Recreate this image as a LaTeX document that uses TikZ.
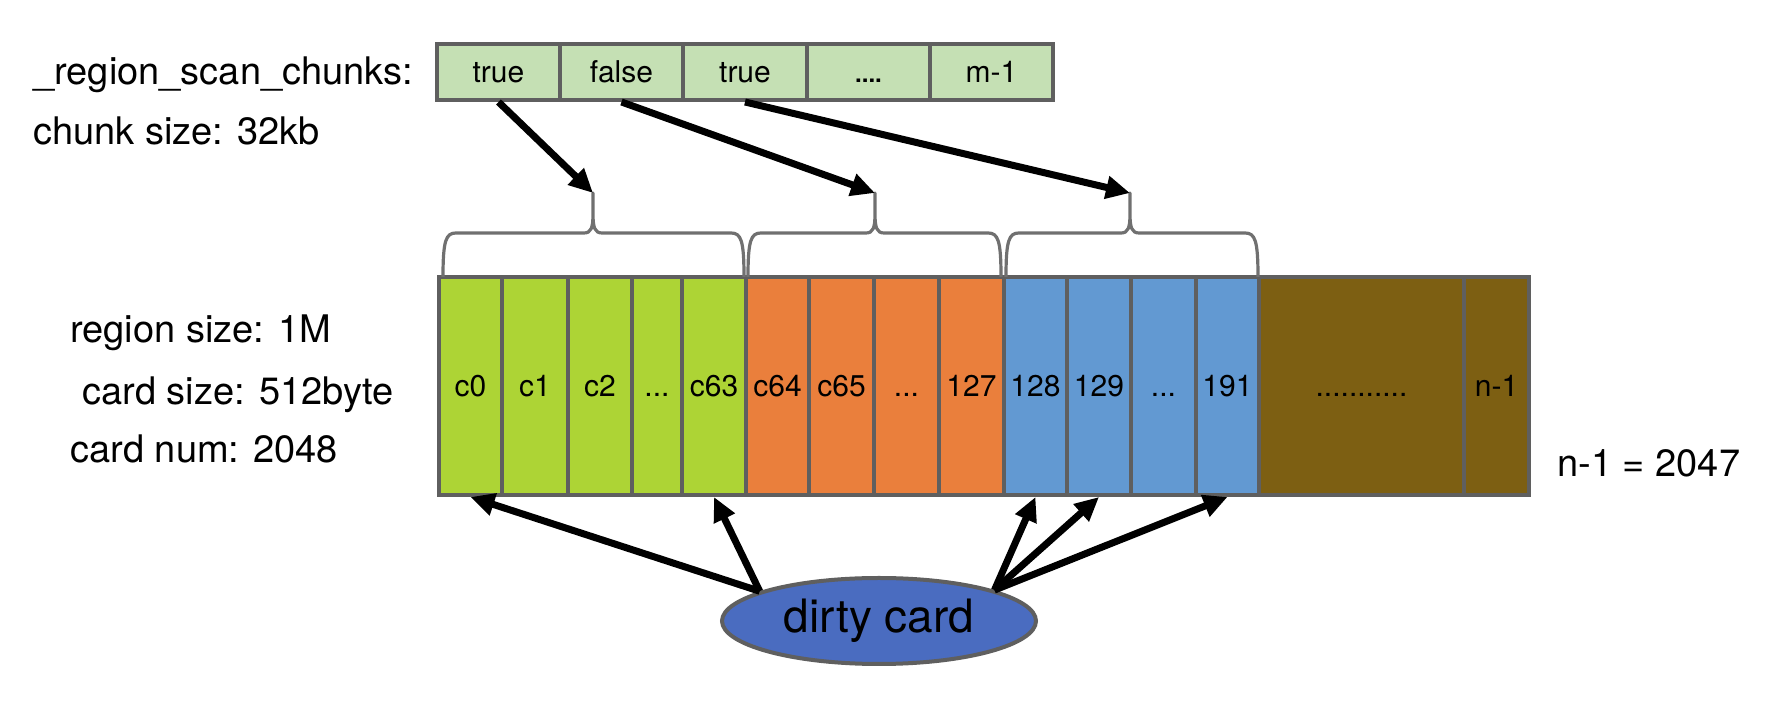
\documentclass[tikz,border=0pt]{standalone}
\usepackage{fontspec}
\setmainfont{TeX Gyre Heros}
\usetikzlibrary{arrows.meta,shapes.geometric}
\definecolor{chunkg}{HTML}{C5E0B4}
\definecolor{cgreen}{HTML}{ADD435}
\definecolor{corange}{HTML}{EA7F3C}
\definecolor{cblue}{HTML}{6299D2}
\definecolor{cbrown}{HTML}{7D5F12}
\definecolor{cdirty}{HTML}{4A6CC0}
\definecolor{edgegray}{HTML}{5F5F5F}
\definecolor{bracegray}{HTML}{707070}
\newcommand\cardcell[5]{%
  \pgfmathsetmacro\cw{(#3-#2)*0.5}%
  \pgfmathsetmacro\cx{(#2+#3)/2}%
  \node[cardbox, fill=#4, minimum width=\cw pt] (#1) at (\cx,386) {#5};}
\newcommand\bracedraw[3]{%
  \draw[bracepath] (#1,277) .. controls (#1,240) and (#1+3,233) .. (#1+13,233)
    -- (#2-9,233) .. controls (#2-2,233) and (#2,228) .. (#2,214) -- (#2,193)
    -- (#2,214) .. controls (#2,228) and (#2+2,233) .. (#2+9,233)
    -- (#3-13,233) .. controls (#3-3,233) and (#3,240) .. (#3,277);}
\begin{document}
\begin{tikzpicture}[x=0.5pt,y=-0.5pt,
  cardbox/.style={draw=edgegray, line width=2pt, inner sep=0pt, minimum height=109pt,
    text height=10.8pt, text depth=0pt, font=\fontsize{15}{18}\selectfont},
  chunkbox/.style={draw=edgegray, line width=2pt, fill=chunkg, inner sep=0pt,
    minimum height=28pt, minimum width=61.6pt, text height=10.8pt, text depth=0pt,
    font=\fontsize{15}{18}\selectfont},
  lbl/.style={inner sep=0pt, anchor=base west, font=\fontsize{19}{23}\selectfont},
  bigarrow/.style={line width=3.5pt, -{Triangle[length=12pt,width=11pt]}},
  bracepath/.style={draw=bracegray, line width=1.6pt, line join=round}
]
\useasboundingbox (0,0) rectangle (1790,704);

% left labels
\node[lbl] (t1) at (33,85) {\_region\_scan\_chunks:};
\node[lbl] (t2) at (33,145) {chunk size: 32kb};
\node[lbl] (t3) at (70,343) {region size: 1M};
\node[lbl] (t4) at (82,405) {card size: 512byte};
\node[lbl] (t5) at (70,463) {card num: 2048};
\node[lbl] (t6) at (1557,477) {n-1 = 2047};

% chunk bar
\node[chunkbox] (ch1) at (498.5,72) {true};
\node[chunkbox] (ch2) at (621.5,72) {false};
\node[chunkbox] (ch3) at (745,72) {true};
\node[chunkbox] (ch4) at (868.5,72) {\textbf{\large....}};
\node[chunkbox] (ch5) at (991.5,72) {m-1};

% card bar
\cardcell{c0}{439}{502}{cgreen}{c0}
\cardcell{c1}{502}{568}{cgreen}{c1}
\cardcell{c2}{568}{632}{cgreen}{c2}
\cardcell{cg}{632}{682}{cgreen}{...}
\cardcell{c63}{682}{746}{cgreen}{c63}
\cardcell{c64}{746}{809}{corange}{c64}
\cardcell{c65}{809}{874}{corange}{c65}
\cardcell{co}{874}{939}{corange}{...}
\cardcell{c127}{939}{1004}{corange}{127}
\cardcell{c128}{1004}{1067}{cblue}{128}
\cardcell{c129}{1067}{1131}{cblue}{129}
\cardcell{cb}{1131}{1196}{cblue}{...}
\cardcell{c191}{1196}{1259}{cblue}{191}
\cardcell{cr}{1259}{1464}{cbrown}{...........}
\cardcell{cn}{1464}{1529}{cbrown}{n-1}

% braces
\bracedraw{443}{593}{744}
\bracedraw{748}{875}{1001}
\bracedraw{1006}{1130}{1258}
\coordinate (b1) at (593,193);
\coordinate (b2) at (875,193);
\coordinate (b3) at (1130,193);

% top arrows
\draw[bigarrow] (ch1.south) -- (b1);
\draw[bigarrow] (ch2.south) -- (b2);
\draw[bigarrow] (ch3.south) -- (b3);

% dirty card
\node[ellipse, draw=edgegray, line width=2pt, fill=cdirty, minimum width=157pt,
  minimum height=43pt, inner sep=0pt, font=\fontsize{23}{28}\selectfont] (dirty) at (879,621) {dirty card};

\draw[bigarrow] (dirty.166) -- (c0.south);
\draw[bigarrow] (dirty.166) -- (c63.south);
\draw[bigarrow] (dirty.15) -- (c128.south);
\draw[bigarrow] (dirty.15) -- (c129.south);
\draw[bigarrow] (dirty.15) -- (c191.south);
\end{tikzpicture}
\end{document}
